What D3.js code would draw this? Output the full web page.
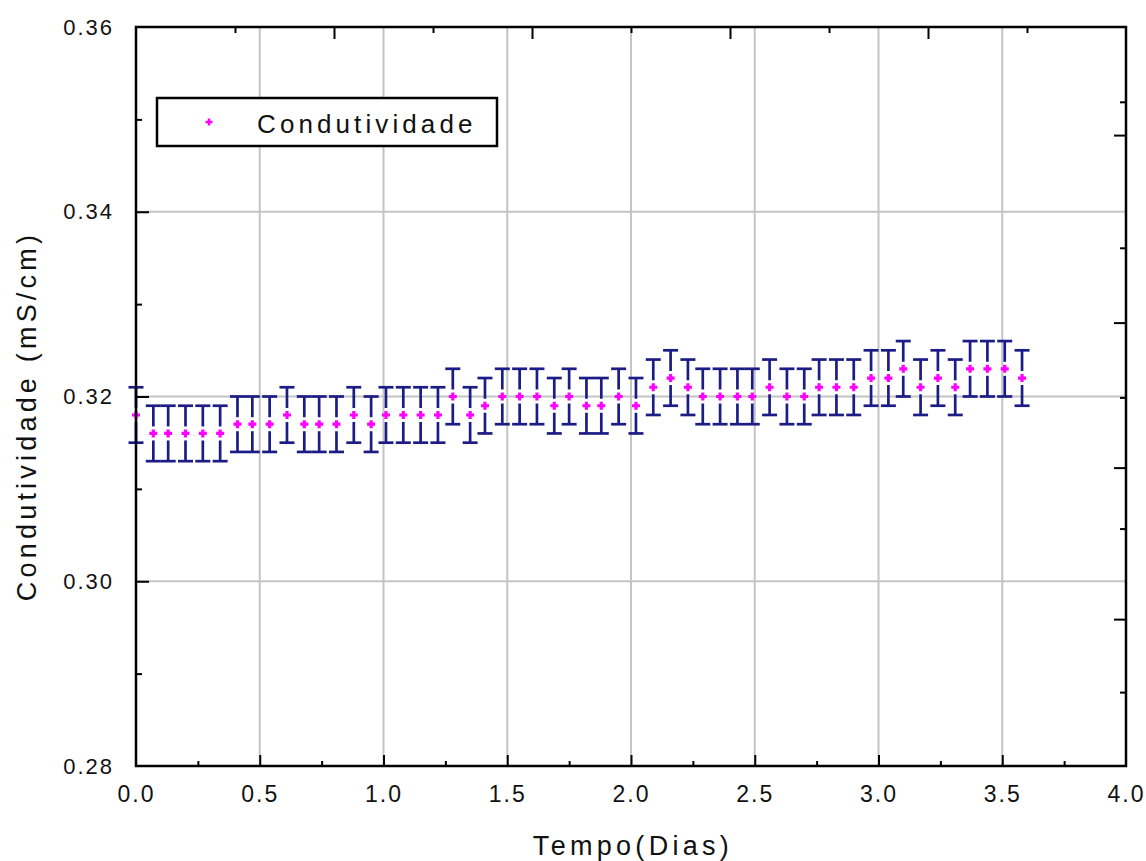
<!DOCTYPE html>
<html>
<head>
<meta charset="utf-8">
<script src="https://cdn.jsdelivr.net/npm/d3@7"></script>
<style>
    body { margin: 0; background: #fff; }
    svg { display: block; }
    text { font-family: "Liberation Sans", Arial, sans-serif; fill: #111; }
</style>
</head>
<body>
<svg id="chart"></svg>
<script>

// DATA

const tempoDias = [
    0.00, 0.07, 0.13, 0.20, 0.27, 0.34, 0.41, 0.47, 0.54, 0.61,
    0.68, 0.74, 0.81, 0.88, 0.95, 1.01, 1.08, 1.15, 1.22, 1.28,
    1.35, 1.41, 1.48, 1.55, 1.62, 1.69, 1.75, 1.82, 1.88, 1.95,
    2.02, 2.09, 2.16, 2.23, 2.29, 2.36, 2.43, 2.49, 2.56, 2.63,
    2.70, 2.76, 2.83, 2.90, 2.97, 3.04, 3.10, 3.17, 3.24, 3.31,
    3.37, 3.44, 3.51, 3.58
];

const condutividade = [
    0.318, 0.316, 0.316, 0.316, 0.316, 0.316, 0.317, 0.317, 0.317, 0.318,
    0.317, 0.317, 0.317, 0.318, 0.317, 0.318, 0.318, 0.318, 0.318, 0.320,
    0.318, 0.319, 0.320, 0.320, 0.320, 0.319, 0.320, 0.319, 0.319, 0.320,
    0.319, 0.321, 0.322, 0.321, 0.320, 0.320, 0.320, 0.320, 0.321, 0.320,
    0.320, 0.321, 0.321, 0.321, 0.322, 0.322, 0.323, 0.321, 0.322, 0.321,
    0.323, 0.323, 0.323, 0.322
];

const erro = [
    0.003, 0.003, 0.003, 0.003, 0.003, 0.003, 0.003, 0.003, 0.003, 0.003,
    0.003, 0.003, 0.003, 0.003, 0.003, 0.003, 0.003, 0.003, 0.003, 0.003,
    0.003, 0.003, 0.003, 0.003, 0.003, 0.003, 0.003, 0.003, 0.003, 0.003,
    0.003, 0.003, 0.003, 0.003, 0.003, 0.003, 0.003, 0.003, 0.003, 0.003,
    0.003, 0.003, 0.003, 0.003, 0.003, 0.003, 0.003, 0.003, 0.003, 0.003,
    0.003, 0.003, 0.003, 0.003
];

const xTicks = [0.0, 0.5, 1.0, 1.5, 2.0, 2.5, 3.0, 3.5, 4.0];
const xMinorTicks = [0.25, 0.75, 1.25, 1.75, 2.25, 2.75, 3.25, 3.75];
const yTicks = [0.28, 0.30, 0.32, 0.34, 0.36];
const yMinorTicks = [0.29, 0.31, 0.33, 0.35];

// secondary (top / right) axis ticks, no labels
const topMajorTicks = [0.8, 1.6, 2.4, 3.2];
const topMinorTicks = [0.4, 1.2, 2.0, 2.8, 3.6];
const rightMajorTicks = [0.3483, 0.3280, 0.3123, 0.2959];
const rightMinorTicks = [0.3519, 0.3361, 0.3199, 0.3057, 0.2880];

const legendLabel = "Condutividade";


// CHART

const width = 1146;
const height = 861;

const margin = { top: 27, right: 20, bottom: 95, left: 136 };

const svg = d3.select("#chart")
    .attr("width", width)
    .attr("height", height);

const x = d3.scaleLinear()
    .domain([0, 4])
    .range([margin.left, width - margin.right]);

const y = d3.scaleLinear()
    .domain([0.28, 0.36])
    .range([height - margin.bottom, margin.top]);

const plotLeft = x(0);
const plotRight = x(4);
const plotTop = y(0.36);
const plotBottom = y(0.28);


// Grid lines

const grid = svg.append("g")
    .attr("stroke", "#c4c4c4")
    .attr("stroke-width", 2);

for (let t of xTicks.slice(1, -1)) {
    grid.append("line")
        .attr("x1", x(t)).attr("x2", x(t))
        .attr("y1", plotTop).attr("y2", plotBottom);
}

for (let t of yTicks.slice(1, -1)) {
    grid.append("line")
        .attr("x1", plotLeft).attr("x2", plotRight)
        .attr("y1", y(t)).attr("y2", y(t));
}


// Axes (ticks point inwards)

const bottomAxis = d3.axisBottom(x)
    .tickValues(xTicks)
    .tickSize(-11)
    .tickPadding(20)
    .tickFormat(d3.format(".1f"));

const bottomMinor = d3.axisBottom(x)
    .tickValues(xMinorTicks)
    .tickSize(-5)
    .tickFormat("");

const leftAxis = d3.axisLeft(y)
    .tickValues(yTicks)
    .tickSize(-13)
    .tickPadding(22)
    .tickFormat(d => d3.format(".2f")(d));

const leftMinor = d3.axisLeft(y)
    .tickValues(yMinorTicks)
    .tickSize(-6)
    .tickFormat("");

const topMajor = d3.axisTop(x).tickValues(topMajorTicks).tickSize(-12).tickFormat("");
const topMinor = d3.axisTop(x).tickValues(topMinorTicks).tickSize(-6).tickFormat("");
const rightMajor = d3.axisRight(y).tickValues(rightMajorTicks).tickSize(-12).tickFormat("");
const rightMinor = d3.axisRight(y).tickValues(rightMinorTicks).tickSize(-6).tickFormat("");

function drawAxis(axis, transform, cls) {
    const g = svg.append("g")
        .attr("class", cls)
        .attr("transform", transform)
        .call(axis);
    g.select(".domain").remove();
    g.selectAll(".tick line")
        .attr("stroke", "#000")
        .attr("stroke-width", 2);
    return g;
}

const gx = drawAxis(bottomAxis, `translate(0,${plotBottom})`, "x-axis");
drawAxis(bottomMinor, `translate(0,${plotBottom})`, "x-minor");
const gy = drawAxis(leftAxis, `translate(${plotLeft},0)`, "y-axis");
drawAxis(leftMinor, `translate(${plotLeft},0)`, "y-minor");
drawAxis(topMajor, `translate(0,${plotTop})`, "top-major");
drawAxis(topMinor, `translate(0,${plotTop})`, "top-minor");
drawAxis(rightMajor, `translate(${plotRight},0)`, "right-major");
drawAxis(rightMinor, `translate(${plotRight},0)`, "right-minor");

gx.selectAll(".tick text")
    .attr("font-size", 23)
    .attr("letter-spacing", 2)
    .attr("fill", "#111");

gy.selectAll(".tick text")
    .attr("font-size", 22)
    .attr("letter-spacing", 2)
    .attr("fill", "#111");

// hide edge tick lines that sit on the frame
gx.selectAll(".tick line").filter(d => d === 0 || d === 4).remove();
gy.selectAll(".tick line").filter(d => d === 0.28 || d === 0.36).remove();


// Error bars

const errorColor = "#1c1c86";
const capHalf = 7.5;
const gap = 7;

const bars = svg.append("g")
    .attr("stroke", errorColor)
    .attr("stroke-width", 2.7)
    .attr("fill", "none");

for (let i = 0; i < tempoDias.length; i++) {

    const cx = x(tempoDias[i]);
    const cy = y(condutividade[i]);
    const top = y(condutividade[i] + erro[i]);
    const bottom = y(condutividade[i] - erro[i]);

    // upper half
    bars.append("line")
        .attr("x1", cx).attr("x2", cx)
        .attr("y1", top).attr("y2", cy - gap);

    // lower half
    bars.append("line")
        .attr("x1", cx).attr("x2", cx)
        .attr("y1", cy + gap).attr("y2", bottom);

    // caps
    bars.append("line")
        .attr("x1", cx - capHalf).attr("x2", cx + capHalf)
        .attr("y1", top).attr("y2", top);

    bars.append("line")
        .attr("x1", cx - capHalf).attr("x2", cx + capHalf)
        .attr("y1", bottom).attr("y2", bottom);

}


// Markers

function plusPath(cx, cy, r) {
    return `M${cx - r},${cy}H${cx + r}M${cx},${cy - r}V${cy + r}`;
}

svg.append("g")
    .selectAll("path")
    .data(tempoDias)
    .join("path")
    .attr("d", (d, i) => plusPath(x(d), y(condutividade[i]), 4))
    .attr("stroke", "#ff00ff")
    .attr("stroke-width", 3.2)
    .attr("fill", "none");


// Frame

svg.append("rect")
    .attr("x", plotLeft)
    .attr("y", plotTop)
    .attr("width", plotRight - plotLeft)
    .attr("height", plotBottom - plotTop)
    .attr("fill", "none")
    .attr("stroke", "#000")
    .attr("stroke-width", 2.5);


// Legend

const legend = svg.append("g");

legend.append("rect")
    .attr("x", 157)
    .attr("y", 98)
    .attr("width", 340)
    .attr("height", 48)
    .attr("fill", "#fff")
    .attr("stroke", "#000")
    .attr("stroke-width", 2.5);

legend.append("path")
    .attr("d", plusPath(209, 122, 3.5))
    .attr("stroke", "#ff00ff")
    .attr("stroke-width", 2.5);

legend.append("text")
    .attr("x", 257)
    .attr("y", 133)
    .attr("font-size", 26)
    .attr("letter-spacing", 4.1)
    .text(legendLabel);


// Axis titles

svg.append("text")
    .attr("x", x(2) + 2)
    .attr("y", 855)
    .attr("text-anchor", "middle")
    .attr("font-size", 27)
    .attr("letter-spacing", 4.3)
    .text("Tempo(Dias)");

svg.append("text")
    .attr("transform", "translate(36,416) rotate(-90)")
    .attr("text-anchor", "middle")
    .attr("font-size", 27)
    .attr("letter-spacing", 4.2)
    .text("Condutividade (mS/cm)");

</script>
</body>
</html>
